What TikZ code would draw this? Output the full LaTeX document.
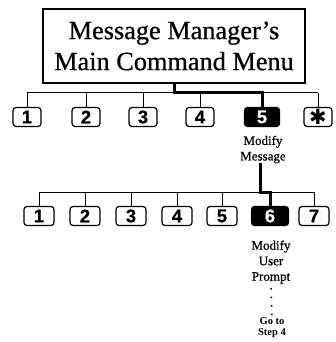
\documentclass[tikz,border=0pt]{standalone}
\usepackage{fontspec}
\setmainfont{Liberation Serif}
\newfontfamily\scanfont{Liberation Serif}[FakeBold=0.7]
\newfontfamily\keyfont{Liberation Sans}[FakeBold=0.5]
\newfontfamily\symfont{DejaVu Sans}
\usetikzlibrary{positioning}

\begin{document}
\begin{tikzpicture}[
  x=1pt, y=-1pt,
  menu/.style={draw, line width=1.3pt, minimum width=262pt, minimum height=74pt, align=center, inner sep=0pt, font=\scanfont\fontsize{26.3}{31}\selectfont},
  key/.style={draw, line width=1.2pt, rounded corners=3pt, minimum width=28pt, minimum height=19pt, inner sep=0pt, font=\keyfont\bfseries\fontsize{18.5}{18}\selectfont},
  keyon/.style={key, fill=black, text=white, minimum width=35pt},
  note/.style={align=center, inner sep=0pt, font=\scanfont\fontsize{13}{15.5}\selectfont},
  goto/.style={align=center, inner sep=0pt, font=\bfseries\fontsize{10.5}{11}\selectfont},
  bus/.style={line width=1pt},
  route/.style={line width=3pt}
]
\useasboundingbox (0,0) rectangle (336,342);

\node[menu] (main) at (174,46) {Message Manager’s\\Main Command Menu};

% main menu keys
\foreach \n/\x in {1/27,2/86,3/143,4/200}
  \node[key] (m\n) at (\x,117) {\n};
\node[keyon] (m5) at (262,117) {5};
\node[key] (mstar) at (318,117) {\symfont\fontsize{21}{21}\selectfont\raisebox{-1.5pt}{✱}};
\node[note] (msg) at (263,149.5) {Modify\\Message};

% modify message keys
\foreach \n/\x in {1/39,2/85,3/131,4/177,5/222,7/314}
  \node[key, minimum width=30pt] (s\n) at (\x,216) {\n};
\node[keyon, minimum width=37pt] (s6) at (270,216) {6};
\node[note] (prompt) at (271,262) {Modify\\User\\Prompt};
\node[goto] (step) at (272,327.5) {Go to\\Step 4};

\coordinate (bus1) at (0,93);
\coordinate (bus2) at (0,192);

\draw[bus] (m1.north |- bus1) -- (mstar.north |- bus1);
\foreach \k in {m1,m2,m3,m4,mstar}
  \draw[bus] (\k.north) -- (\k.north |- bus1);
\draw[route] (main.south) -- (main.south |- bus1) -| (m5.north);

\draw[bus] (s1.north |- bus2) -- (s7.north |- bus2);
\foreach \k in {s1,s2,s3,s4,s5,s7}
  \draw[bus] (\k.north) -- (\k.north |- bus2);
\draw[route] ([xshift=-3pt]msg.south) -- ([xshift=-3pt]msg.south |- bus2) -| (s6.north);

\draw[line width=1.5pt, dash pattern=on 1.5pt off 7pt] ([yshift=4pt]prompt.south) -- ([yshift=-3pt]step.north);
\end{tikzpicture}
\end{document}
